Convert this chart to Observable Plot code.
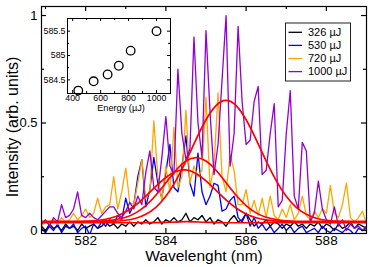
<!DOCTYPE html>
<html><head><meta charset="utf-8">
<script src="https://cdn.jsdelivr.net/npm/d3@7"></script>
<script src="https://cdn.jsdelivr.net/npm/@observablehq/plot@0.6"></script>
<style>
body{margin:0;background:#fff;font-family:"Liberation Sans",Arial,Helvetica,sans-serif}
#wrap{position:relative;width:374px;height:267px;overflow:hidden}
#wrap svg{position:absolute;left:0;top:0}
</style></head><body><div id="wrap"></div>
<script>
// ---- data ----
const seriesNames = ["326 µJ", "530 µJ", "720 µJ", "1000 µJ"];
const seriesColors = ["#000000", "#0000ff", "#ffa500", "#9400d3"];

// spectra sampled every 0.1 nm from 580.9 to 589.0 nm
const wlStart = 580.9, wlStep = 0.1, wlCount = 82;
const wavelength = Array.from({length: wlCount}, (_, i) => Math.round((wlStart + wlStep * i) * 10) / 10);

const spec326 = [0.02,0.00,0.03,0.01,0.02,0.00,0.03,0.01,0.02,0.00,
 0.03,0.01,0.02,0.03,0.01,0.02,0.04,0.02,0.03,0.01,
 0.03,0.02,0.04,0.02,0.04,0.03,0.05,0.03,0.04,0.06,
 0.03,0.05,0.04,0.06,0.04,0.05,0.08,0.04,0.06,0.05,
 0.07,0.04,0.06,0.03,0.05,0.04,0.02,0.05,0.07,0.04,
 0.05,0.08,0.05,0.02,0.04,0.03,0.05,0.02,0.04,0.03,
 0.01,0.03,0.02,0.04,0.02,0.03,0.01,0.03,0.02,0.04,
 0.01,0.03,0.02,0.00,0.03,0.01,0.02,0.04,0.01,0.03,
 0.02,0.01];
const spec530 = [0.01,-0.01,0.02,0.00,0.03,-0.01,0.02,0.01,0.03,-0.01,
 0.01,0.02,-0.02,0.03,0.01,0.04,0.02,0.05,0.03,0.07,
 0.05,0.15,0.08,0.12,0.25,0.33,0.11,0.19,0.34,0.22,
 0.15,0.27,0.40,0.20,0.18,0.30,0.44,0.22,0.16,0.36,
 0.18,0.12,0.16,0.22,0.21,0.09,0.10,0.14,0.16,0.06,
 0.04,0.08,0.02,0.06,0.01,0.03,0.00,0.02,-0.01,0.01,
 0.03,0.00,0.02,-0.01,0.01,0.02,-0.01,0.00,0.01,-0.01,
 0.02,0.00,-0.01,0.01,0.00,-0.01,0.01,0.00,-0.02,0.01,
 0.00,0.01];
const spec720 = [0.02,0.04,0.03,0.05,0.03,0.06,0.04,0.05,0.08,0.05,
 0.07,0.10,0.06,0.08,0.15,0.08,0.11,0.12,0.25,0.10,
 0.18,0.29,0.13,0.12,0.22,0.33,0.15,0.18,0.51,0.25,
 0.14,0.30,0.18,0.48,0.20,0.25,0.56,0.22,0.30,0.25,
 0.28,0.62,0.20,0.30,0.64,0.25,0.18,0.35,0.28,0.12,
 0.12,0.19,0.08,0.14,0.07,0.15,0.06,0.16,0.07,0.05,
 0.10,0.06,0.12,0.05,0.08,0.16,0.07,0.05,0.09,0.06,
 0.10,0.08,0.21,0.08,0.06,0.12,0.22,0.06,0.04,0.06,
 0.09,0.03];
const spec1000 = [0.03,0.05,0.02,0.06,0.04,0.12,0.06,0.07,0.10,0.18,
 0.07,0.06,0.08,0.06,0.05,0.07,0.09,0.11,0.11,0.08,
 0.06,0.09,0.13,0.10,0.16,0.12,0.27,0.37,0.20,0.18,
 0.34,0.53,0.30,0.26,0.75,0.45,0.33,0.38,0.90,0.50,
 0.34,0.93,0.55,0.26,0.40,0.70,1.00,0.30,0.45,0.95,
 0.60,0.40,0.42,0.60,0.67,0.26,0.28,0.45,0.59,0.11,
 0.14,0.45,0.65,0.16,0.10,0.41,0.37,0.04,0.08,0.23,
 0.10,0.05,0.03,0.11,0.02,0.05,0.00,0.03,0.01,0.02,
 0.00,0.02];
const spectra = [spec326, spec530, spec720, spec1000];

// fitted curves, read at these wavelengths
const fitWavelength = [580.9,581.0,581.25,581.5,581.75,582.0,582.25,582.5,582.75,583.0,583.25,583.5,583.75,584.0,584.25,584.5,584.75,585.0,585.25,585.5,585.75,586.0,586.25,586.5,586.75,587.0,587.25,587.5,587.75,588.0,588.25,588.5,588.75,589.0];
const fit326 = [0.036,0.036,0.036,0.036,0.036,0.036,0.036,0.036,0.036,0.036,0.036,0.037,0.037,0.038,0.039,0.041,0.040,0.038,0.037,0.036,0.036,0.036,0.036,0.036,0.036,0.036,0.036,0.036,0.036,0.036,0.036,0.036,0.036,0.036];
const fit530 = [0.04,0.04,0.04,0.04,0.0408,0.0422,0.0455,0.0524,0.0653,0.0868,0.1186,0.1596,0.205,0.2467,0.2745,0.2816,0.2655,0.231,0.1868,0.1423,0.1046,0.077,0.0593,0.0491,0.0439,0.0415,0.0405,0.04,0.04,0.04,0.04,0.04,0.04,0.04];
const fit720 = [0.042,0.042,0.042,0.042,0.042,0.0424,0.0431,0.0453,0.0505,0.0615,0.082,0.116,0.164,0.222,0.280,0.323,0.339,0.323,0.280,0.222,0.164,0.116,0.082,0.0615,0.0505,0.0453,0.0431,0.0424,0.042,0.042,0.042,0.042,0.042,0.042];
const fit1000 = [0.04,0.04,0.04,0.04,0.04,0.04,0.04,0.041,0.043,0.0475,0.057,0.0755,0.108,0.159,0.232,0.323,0.423,0.515,0.581,0.605,0.581,0.515,0.423,0.323,0.232,0.159,0.108,0.0755,0.057,0.0475,0.043,0.041,0.04,0.04];
const fits = [fit326, fit530, fit720, fit1000];

// inset: peak centre vs pulse energy
const insetEnergy = [440, 550, 650, 730, 815, 1000];
const insetCenter = [584.28, 584.47, 584.61, 584.79, 585.10, 585.50];

// ticks
const xMajor = [582, 584, 586, 588];
const xMinor = [581, 583, 585, 587];
const yMajor = [0, 0.5, 1];
const yMinor = [0.25, 0.75];
const inXMajor = [400, 600, 800, 1000];
const inXMinor = [500, 700, 900];
const inYMajor = [584.5, 585, 585.5];
const inYMinor = [584.75, 585.25];

const FONT = '"Liberation Sans", Arial, Helvetica, sans-serif';
const plain = d => String(d);

// inward tick helpers (frame width fw, height fh)
function inwardTicks(xs, ys, fw, fh, len, sw) {
  return [
    Plot.tickX(xs, {x: d => d, insetTop: fh - len, stroke: "black", strokeWidth: sw}),
    Plot.tickX(xs, {x: d => d, insetBottom: fh - len, stroke: "black", strokeWidth: sw}),
    Plot.tickY(ys, {y: d => d, insetRight: fw - len, stroke: "black", strokeWidth: sw}),
    Plot.tickY(ys, {y: d => d, insetLeft: fw - len, stroke: "black", strokeWidth: sw})
  ];
}

// ---- main chart ----
const MW = 374, MH = 267, ML = 41, MR = 8, MT = 6, MB = 34;
const main = Plot.plot({
  width: MW, height: MH,
  marginLeft: ML, marginRight: MR, marginTop: MT, marginBottom: MB,
  style: {fontFamily: FONT, background: "white", color: "black"},
  x: {domain: [580.9, 589.0]},
  y: {domain: [-0.014, 1.042]},
  marks: [
    ...spectra.map((vals, k) => Plot.line(vals, {x: wavelength, y: d => d, stroke: seriesColors[k], strokeWidth: 1.3, clip: true})),
    ...fits.map(vals => Plot.line(vals, {x: fitWavelength, y: d => d, stroke: "#ff0000", strokeWidth: 1.7, curve: "natural", clip: true})),
    Plot.frame({stroke: "black", strokeWidth: 1.2}),
    Plot.axisX({ticks: xMajor, tickSize: 0, tickPadding: 1.5, fontSize: 13.5, label: null, tickFormat: plain}),
    Plot.axisY({ticks: yMajor, tickSize: 0, tickPadding: 4, fontSize: 13, label: null, tickFormat: plain}),
    ...inwardTicks(xMajor, yMajor, MW - ML - MR, MH - MT - MB, 5, 1.2),
    ...inwardTicks(xMinor, yMinor, MW - ML - MR, MH - MT - MB, 3, 1.2),
    Plot.text(["Wavelenght (nm)"], {text: d => d, frameAnchor: "bottom", dy: 27, fontSize: 15.5}),
    Plot.text(["Intensity (arb. units)"], {text: d => d, frameAnchor: "left", textAnchor: "middle", dx: -29, dy: 7, rotate: -90, fontSize: 16})
  ]
});

// ---- inset ----
const IW = 374, IH = 120, IL = 67, IR = 204, IT = 18, IB = 27;
const inset = Plot.plot({
  width: IW, height: IH,
  marginLeft: IL, marginRight: IR, marginTop: IT, marginBottom: IB,
  style: {fontFamily: FONT, background: "transparent", color: "black"},
  x: {domain: [363, 1100]},
  y: {domain: [584.22, 585.76]},
  marks: [
    Plot.frame({fill: "white"}),
    Plot.dot(insetEnergy, {x: d => d, y: insetCenter, r: 4.3, stroke: "black", strokeWidth: 1.3, fill: "none"}),
    Plot.frame({stroke: "black", strokeWidth: 1}),
    Plot.axisX({ticks: inXMajor, tickSize: 0, tickPadding: 1.5, fontSize: 8.8, label: null, tickFormat: plain}),
    Plot.axisY({ticks: inYMajor, tickSize: 0, tickPadding: 2, fontSize: 8.8, label: null, tickFormat: plain}),
    ...inwardTicks(inXMajor, inYMajor, IW - IL - IR, IH - IT - IB, 3, 1),
    ...inwardTicks(inXMinor, inYMinor, IW - IL - IR, IH - IT - IB, 2, 1),
    Plot.text(["Energy (µJ)"], {text: d => d, frameAnchor: "bottom", dy: 17, dx: 2, fontSize: 9.2})
  ]
});

// ---- legend ----
const legend = d3.create("svg").attr("width", 374).attr("height", 267)
  .style("font-family", FONT);
legend.append("rect").attr("x", 285.5).attr("y", 23).attr("width", 65).attr("height", 58)
  .attr("fill", "white").attr("stroke", "#222").attr("stroke-width", 1);
seriesNames.forEach((name, k) => {
  const cy = 32.3 + k * 13.1;
  legend.append("line").attr("x1", 288.5).attr("x2", 302).attr("y1", cy).attr("y2", cy)
    .attr("stroke", seriesColors[k]).attr("stroke-width", 1.3);
  legend.append("text").attr("x", 308).attr("y", cy).attr("dy", "0.35em")
    .attr("font-size", 11).attr("fill", "black").text(name);
});

const wrap = document.getElementById("wrap");
wrap.appendChild(main);
wrap.appendChild(inset);
wrap.appendChild(legend.node());
</script></body></html>
